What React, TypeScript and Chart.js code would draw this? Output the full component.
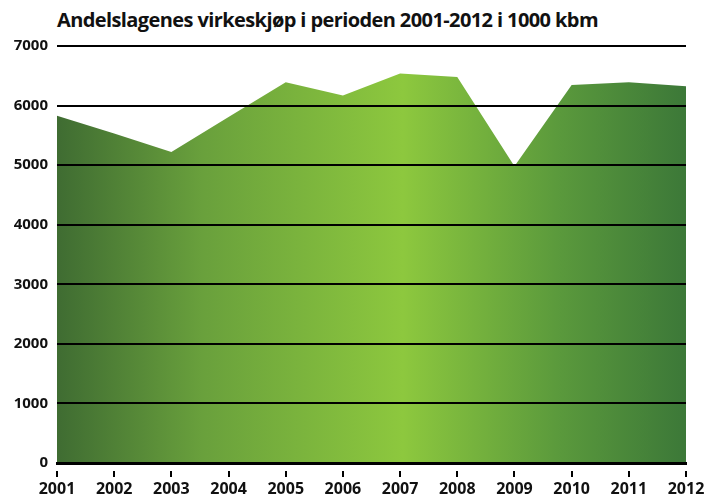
import React, { useEffect, useRef } from "react";
import { Chart, registerables } from "chart.js";

Chart.register(...registerables);

const years = ["2001", "2002", "2003", "2004", "2005", "2006", "2007", "2008", "2009", "2010", "2011", "2012"];
const purchases = [5830, 5530, 5220, 5810, 6390, 6170, 6540, 6480, 4980, 6345, 6390, 6325];
const yTicks = [0, 1000, 2000, 3000, 4000, 5000, 6000, 7000];
const titleText = "Andelslagenes virkeskjøp i perioden 2001-2012 i 1000 kbm";

const FONT = "'Open Sans', sans-serif";

const tickMarks = {
  id: "tickMarks",
  afterDraw(chart: any) {
    const x = chart.scales.x;
    const ctx = chart.ctx;
    const base = chart.chartArea.bottom;
    ctx.save();
    ctx.strokeStyle = "#000";
    ctx.lineWidth = 2;
    ctx.beginPath();
    x.ticks.forEach((_t: any, i: number) => {
      const px = Math.round(x.getPixelForTick(i));
      ctx.moveTo(px, base + 8);
      ctx.lineTo(px, base + 14);
    });
    ctx.stroke();
    ctx.restore();
  },
};

export default function App() {
  const ref = useRef<HTMLCanvasElement | null>(null);

  useEffect(() => {
    document.body.style.margin = "0";
    const canvas = ref.current;
    if (!canvas) return;
    const chart = new Chart(canvas, {
      type: "line",
      data: {
        labels: years,
        datasets: [
          {
            data: purchases,
            fill: "origin",
            borderWidth: 0,
            pointRadius: 0,
            tension: 0,
            backgroundColor: (ctx: any) => {
              const c = ctx.chart;
              const area = c.chartArea;
              if (!area) return "#6fa33d";
              const g = c.ctx.createLinearGradient(area.left, 0, area.right, 0);
              g.addColorStop(0, "#3f6c32");
              g.addColorStop(0.23, "#69a03c");
              g.addColorStop(0.55, "#8dc83e");
              g.addColorStop(0.8, "#5a993c");
              g.addColorStop(1, "#3c7838");
              return g;
            },
          },
        ],
      },
      plugins: [tickMarks],
      options: {
        animation: false,
        responsive: false,
        layout: { padding: { left: 0, right: 31, top: 46, bottom: 0 } },
        plugins: { legend: { display: false }, tooltip: { enabled: false }, title: { display: false } },
        scales: {
          x: {
            offset: false,
            afterFit: (axis: any) => {
              axis.height = 34;
            },
            grid: {
              drawOnChartArea: false,
              drawTicks: true,
              tickLength: 16,
              tickColor: "rgba(0,0,0,0)",
              z: 1,
            },
            border: { display: true, color: "#000", width: 3, z: 1 },
            ticks: {
              color: "#111",
              font: { family: FONT, weight: "bold", size: 16 },
              padding: 1,
              maxRotation: 0,
              autoSkip: false,
            },
          },
          y: {
            min: 0,
            max: 7000,
            afterFit: (axis: any) => {
              axis.width = 57;
            },
            afterBuildTicks: (axis: any) => {
              axis.ticks = yTicks.map((v) => ({ value: v }));
            },
            grid: { color: "#000", lineWidth: 2, drawTicks: false, z: 1 },
            border: { display: false },
            ticks: {
              color: "#111",
              font: { family: FONT, weight: "bold", size: 15 },
              padding: 9,
              callback: (v: any) => String(v),
            },
          },
        },
      },
    });
    return () => chart.destroy();
  }, []);

  return (
    <div style={{ position: "relative", width: 717, height: 497, background: "#fff" }}>
      <div
        style={{
          position: "absolute",
          left: 57,
          top: 6,
          fontFamily: FONT,
          fontWeight: 700,
          fontSize: 20,
          letterSpacing: "-0.6px",
          color: "#111",
          whiteSpace: "nowrap",
        }}
      >
        {titleText}
      </div>
      <canvas ref={ref} width={717} height={497} style={{ position: "absolute", left: 0, top: 0 }} />
    </div>
  );
}
